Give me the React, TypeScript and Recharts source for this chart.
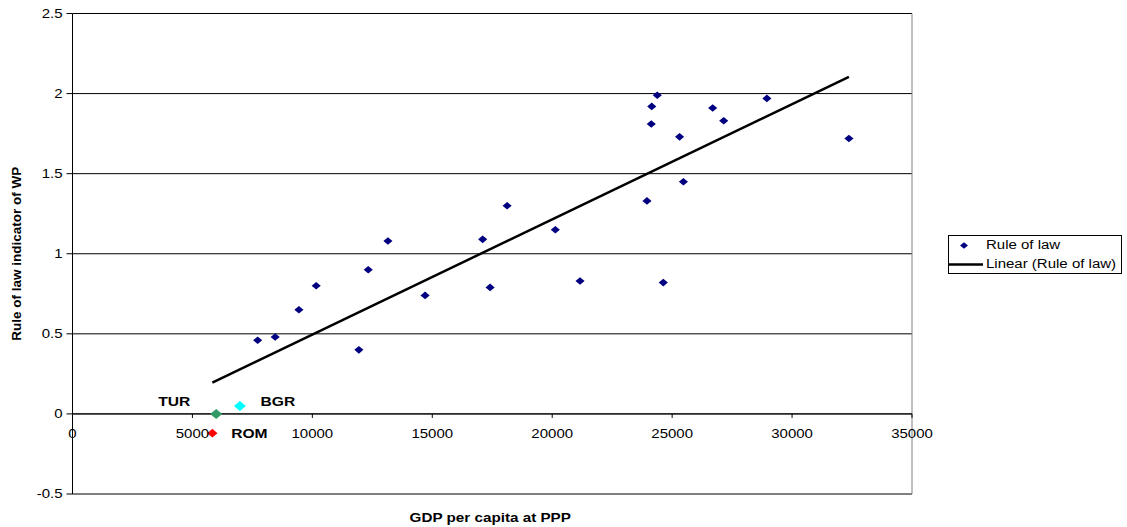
import React from "react";
import {
  ScatterChart,
  Scatter,
  XAxis,
  YAxis,
  CartesianGrid,
  ReferenceLine,
} from "recharts";

// GDP per capita at PPP (x) and rule of law indicator (y)
const gdp = [
  7720, 8450, 9440, 10160, 11940, 12330, 13150, 14700, 17100, 17410, 18120,
  20130, 21160, 23950, 24130, 24150, 24380, 24630, 25310, 25470, 26690, 27150,
  28950, 32370,
];
const ruleOfLaw = [
  0.46, 0.48, 0.65, 0.8, 0.4, 0.9, 1.08, 0.74, 1.09, 0.79, 1.3, 1.15, 0.83,
  1.33, 1.81, 1.92, 1.99, 0.82, 1.73, 1.45, 1.91, 1.83, 1.97, 1.72,
];

// highlighted countries
const highlightNames = ["TUR", "BGR", "ROM"];
const highlightGdp = [5990, 6980, 5830];
const highlightRule = [0, 0.05, -0.12];

// linear trend line end points
const trendGdp = [5830, 32370];
const trendRule = [0.195, 2.105];

const xTicks = [0, 5000, 10000, 15000, 20000, 25000, 30000, 35000];
const yTicks = [-0.5, 0, 0.5, 1, 1.5, 2, 2.5];

const FONT = "Arial, 'Liberation Sans', sans-serif";
const SX = 1.2; // the reference is a bit stretched sideways
const WIDTH = 1127;
const HEIGHT = 527;
const MARGIN = { top: 13.5, right: 215, left: 12.5, bottom: 0 };
const X_AXIS_H = 33;
const Y_MIN = -0.5;
const Y_MAX = 2.5;
const PLOT_H = HEIGHT - MARGIN.top - MARGIN.bottom - X_AXIS_H;
// the category axis crosses at y = 0, like in Excel
const ZERO_Y = MARGIN.top + (PLOT_H * Y_MAX) / (Y_MAX - Y_MIN);

const mainData = gdp.map((x, i) => ({ x, y: ruleOfLaw[i] }));
const highlightData = highlightNames.map((name, i) => ({
  name,
  x: highlightGdp[i],
  y: highlightRule[i],
}));
const trendData = trendGdp.map((x, i) => ({ x, y: trendRule[i] }));

const highlightStyle: Record<
  string,
  { fill: string; r: number; dx: number; dy: number }
> = {
  TUR: { fill: "#339966", r: 5, dx: -42, dy: -12 },
  BGR: { fill: "#00FFFF", r: 5, dx: 38, dy: -4 },
  ROM: { fill: "#FF0000", r: 4.3, dx: 37, dy: 0 },
};

const diamond = (cx: number, cy: number, r: number) => {
  const rx = r * 1.2;
  return `${cx},${cy - r} ${cx + rx},${cy} ${cx},${cy + r} ${cx - rx},${cy}`;
};

const SText = ({
  x,
  y,
  anchor = "middle",
  size = 12.5,
  bold = false,
  children,
}: any) => (
  <g transform={`translate(${x},${y}) scale(${SX},1)`}>
    <text
      x={0}
      y={0}
      textAnchor={anchor}
      dominantBaseline="central"
      fontFamily={FONT}
      fontWeight={bold ? "bold" : "normal"}
      fontSize={size}
      fill="#000"
    >
      {children}
    </text>
  </g>
);

const NavyDot = (props: any) => {
  const { cx, cy } = props;
  if (cx == null || cy == null) return <g />;
  return <polygon points={diamond(cx, cy, 3.8)} fill="#000080" />;
};

const HighlightDot = (props: any) => {
  const { cx, cy, payload } = props;
  if (cx == null || cy == null) return <g />;
  const s = highlightStyle[payload.name];
  return (
    <g>
      <polygon points={diamond(cx, cy, s.r)} fill={s.fill} />
      <SText x={cx + s.dx} y={cy + s.dy} size={13} bold>
        {payload.name}
      </SText>
    </g>
  );
};

const XTick = (props: any) => {
  const { x, payload } = props;
  return (
    <g>
      <line x1={x} x2={x} y1={ZERO_Y} y2={ZERO_Y + 4} stroke="#000" />
      <SText x={x} y={ZERO_Y + 20}>
        {payload.value}
      </SText>
    </g>
  );
};

const YTick = (props: any) => {
  const { x, y, payload } = props;
  return (
    <SText x={x} y={y} anchor="end">
      {payload.value}
    </SText>
  );
};

const legendRow: React.CSSProperties = {
  display: "flex",
  alignItems: "center",
  height: 19,
};
const legendText: React.CSSProperties = {
  display: "inline-block",
  transform: `scaleX(${SX})`,
  transformOrigin: "left center",
  whiteSpace: "nowrap",
};

const LegendBox = () => (
  <div
    style={{
      position: "absolute",
      left: 948,
      top: 235,
      width: 174,
      height: 39,
      boxSizing: "border-box",
      border: "1px solid #000",
      background: "#fff",
      fontFamily: FONT,
      fontSize: 12.5,
      color: "#000",
      lineHeight: "19px",
    }}
  >
    <div style={legendRow}>
      <svg width={37} height={19}>
        <polygon points={diamond(15, 9.5, 3.3)} fill="#000080" />
      </svg>
      <span style={legendText}>Rule of law</span>
    </div>
    <div style={legendRow}>
      <svg width={37} height={19}>
        <line x1={0} x2={34} y1={9.5} y2={9.5} stroke="#000" strokeWidth={2.5} />
      </svg>
      <span style={legendText}>Linear (Rule of law)</span>
    </div>
  </div>
);

export default function App() {
  return (
    <div
      style={{
        position: "absolute",
        left: 0,
        top: 0,
        width: WIDTH,
        height: HEIGHT,
        background: "#fff",
      }}
    >
      <ScatterChart width={WIDTH} height={HEIGHT} margin={MARGIN}>
        <CartesianGrid vertical={false} stroke="#000" />
        <ReferenceLine y={Y_MIN} stroke="#808080" />
        <ReferenceLine x={35000} stroke="#808080" />
        <ReferenceLine y={0} stroke="#000" />
        <XAxis
          type="number"
          dataKey="x"
          domain={[0, 35000]}
          ticks={xTicks}
          interval={0}
          axisLine={false}
          tickLine={false}
          tick={<XTick />}
          height={X_AXIS_H}
          label={(p: any) => {
            const vb = p.viewBox;
            return (
              <SText x={vb.x + vb.width / 2 - 2} y={vb.y + 23} size={12.7} bold>
                GDP per capita at PPP
              </SText>
            );
          }}
        />
        <YAxis
          type="number"
          dataKey="y"
          domain={[Y_MIN, Y_MAX]}
          ticks={yTicks}
          interval={0}
          width={60}
          axisLine={{ stroke: "#000" }}
          tickLine={{ stroke: "#000" }}
          tickSize={6}
          tickMargin={4}
          tick={<YTick />}
          label={(p: any) => {
            const vb = p.viewBox;
            const cx = vb.x + 4;
            const cy = vb.y + vb.height / 2;
            return (
              <text
                x={cx}
                y={cy}
                transform={`rotate(-90 ${cx} ${cy})`}
                textAnchor="middle"
                dominantBaseline="central"
                fontFamily={FONT}
                fontWeight="bold"
                fontSize={13.5}
                fill="#000"
              >
                Rule of law indicator of WP
              </text>
            );
          }}
        />
        <Scatter
          name="Rule of law"
          data={mainData}
          shape={<NavyDot />}
          isAnimationActive={false}
        />
        <Scatter
          data={highlightData}
          shape={<HighlightDot />}
          legendType="none"
          isAnimationActive={false}
        />
        <Scatter
          name="Linear (Rule of law)"
          data={trendData}
          line={{ stroke: "#000", strokeWidth: 2.5 }}
          shape={() => <g />}
          isAnimationActive={false}
        />
      </ScatterChart>
      <LegendBox />
    </div>
  );
}
